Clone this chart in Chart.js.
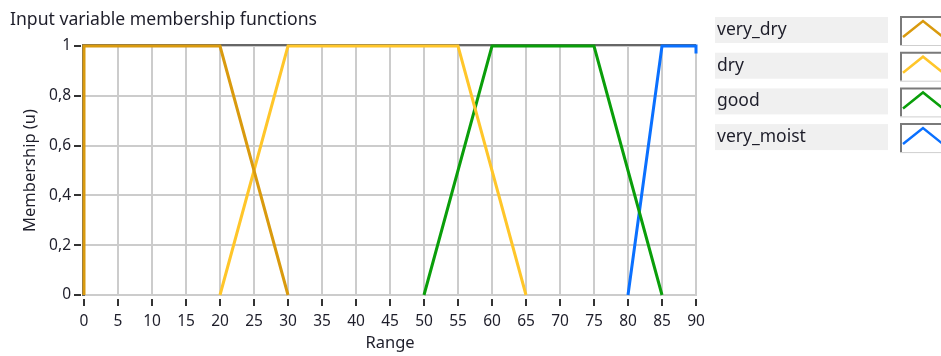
<!DOCTYPE html>
<html>
<head>
<meta charset="utf-8">
<script src="https://cdn.jsdelivr.net/npm/chart.js@4/dist/chart.umd.min.js"></script>
<style>
html,body{margin:0;padding:0;background:#fff;}
#wrap{width:941px;height:356px;position:relative;}
</style>
</head>
<body>
<div id="wrap"><canvas id="c" width="941" height="356"></canvas></div>
<script>
// ---- data ----
const chartTitle = 'Input variable membership functions';
const seriesNames = ['very_dry', 'dry', 'good', 'very_moist'];
const veryDryX = [0, 0, 20, 30];
const veryDryY = [0, 1, 1, 0];
const dryX = [20, 30, 55, 65];
const dryY = [0, 1, 1, 0];
const goodX = [50, 60, 75, 85];
const goodY = [0, 1, 1, 0];
const veryMoistX = [80, 85, 90, 90];
const veryMoistY = [0, 1, 1, 0.97];
const xTickValues = [0,5,10,15,20,25,30,35,40,45,50,55,60,65,70,75,80,85,90];
const yTickLabels = ['0', '0,2', '0,4', '0,6', '0,8', '1'];
const xAxisTitle = 'Range';
const yAxisTitle = 'Membership (u)';

const seriesColors = ['#D99A0E', '#FFC62A', '#0A9E0A', '#0A70FF'];
const FONT = "'Noto Sans', 'Open Sans', sans-serif";
const TXT = '#1e1e2a';

function pts(xs, ys) { return xs.map((x, i) => ({x: x, y: ys[i]})); }
const seriesX = [veryDryX, dryX, goodX, veryMoistX];
const seriesY = [veryDryY, dryY, goodY, veryMoistY];

const datasets = seriesNames.map((n, i) => ({
  label: n,
  data: pts(seriesX[i], seriesY[i]),
  borderColor: seriesColors[i],
  backgroundColor: seriesColors[i],
  borderWidth: 3,
  pointRadius: 0,
  tension: 0,
  clip: 4,
  fill: false
}));

const decor = {
  id: 'decor',
  beforeDatasetsDraw(chart) {
    const ctx = chart.ctx, a = chart.chartArea;
    const xs = chart.scales.x, ys = chart.scales.y;
    ctx.save();
    // frame (top + left dark)
    ctx.strokeStyle = '#666666';
    ctx.lineWidth = 2;
    ctx.beginPath();
    ctx.moveTo(a.left - 1, a.bottom + 1);
    ctx.lineTo(a.left - 1, a.top - 1);
    ctx.lineTo(a.right, a.top - 1);
    ctx.stroke();
    // tick marks
    ctx.strokeStyle = '#333';
    ctx.lineWidth = 2;
    xTickValues.forEach(v => {
      const px = Math.round(xs.getPixelForValue(v));
      ctx.beginPath();
      ctx.moveTo(px, a.bottom + 4);
      ctx.lineTo(px, a.bottom + 11);
      ctx.stroke();
    });
    yTickLabels.forEach((l, i) => {
      const py = Math.round(ys.getPixelForValue(i * 0.2));
      ctx.beginPath();
      ctx.moveTo(a.left - 10, py);
      ctx.lineTo(a.left - 3, py);
      ctx.stroke();
    });
    ctx.restore();
  },
  afterDraw(chart) {
    const ctx = chart.ctx;
    ctx.save();
    // title
    ctx.fillStyle = TXT;
    ctx.font = '17.6px ' + FONT;
    ctx.textBaseline = 'middle';
    ctx.textAlign = 'left';
    ctx.fillText(chartTitle, 10, 20);
    // legend
    seriesNames.forEach((n, i) => {
      const top = 17 + i * 35.7;
      ctx.fillStyle = '#f0f0f0';
      ctx.fillRect(715, top, 173, 26);
      ctx.fillStyle = TXT;
      ctx.font = '17.5px ' + FONT;
      ctx.fillText(n, 717, top + 13);
      // icon box
      const bx = 900, by = top - 1;
      ctx.fillStyle = '#ffffff';
      ctx.fillRect(bx, by, 60, 29);
      ctx.strokeStyle = '#7a7a7a';
      ctx.lineWidth = 2;
      ctx.beginPath();
      ctx.moveTo(bx + 1, by + 29);
      ctx.lineTo(bx + 1, by + 1);
      ctx.lineTo(bx + 60, by + 1);
      ctx.stroke();
      ctx.strokeStyle = '#cfcfcf';
      ctx.lineWidth = 1;
      ctx.beginPath();
      ctx.moveTo(bx, by + 29.5);
      ctx.lineTo(bx + 60, by + 29.5);
      ctx.stroke();
      ctx.strokeStyle = seriesColors[i];
      ctx.lineWidth = 2.5;
      ctx.beginPath();
      ctx.moveTo(bx + 3, by + 21);
      ctx.lineTo(bx + 23, by + 5);
      ctx.lineTo(bx + 43, by + 21);
      ctx.stroke();
    });
    ctx.restore();
  }
};

new Chart(document.getElementById('c'), {
  type: 'line',
  data: { datasets: datasets },
  options: {
    responsive: false,
    devicePixelRatio: 1,
    animation: false,
    layout: { padding: { left: 0, top: 46, right: 245, bottom: 0 } },
    plugins: { legend: { display: false }, tooltip: { enabled: false }, title: { display: false } },
    scales: {
      x: {
        type: 'linear', min: 0, max: 90,
        afterFit: s => { s.height = 61; },
        afterBuildTicks: s => { s.ticks = xTickValues.map(v => ({value: v})); },
        ticks: { color: TXT, font: { family: FONT, size: 15.5 }, padding: 17, maxRotation: 0, autoSkip: false },
        grid: { color: '#cccccc', lineWidth: 2, drawTicks: false },
        border: { color: '#cccccc', width: 2 },
        title: { display: true, text: xAxisTitle, color: TXT, font: { family: FONT, size: 16.5 }, padding: { top: 0, bottom: 3 } }
      },
      y: {
        type: 'linear', min: 0, max: 1,
        afterFit: s => { s.width = 84; },
        afterBuildTicks: s => { s.ticks = yTickLabels.map((l, i) => ({value: i * 0.2})); },
        ticks: { color: TXT, font: { family: FONT, size: 15.5 }, padding: 13, autoSkip: false,
                 callback: (v, i) => yTickLabels[i] },
        grid: { color: '#cccccc', lineWidth: 2, drawTicks: false },
        border: { color: '#666666', width: 2 },
        title: { display: true, text: yAxisTitle, color: TXT, font: { family: FONT, size: 16.5 }, padding: { top: 20, bottom: 0 } }
      }
    }
  },
  plugins: [decor]
});
</script>
</body>
</html>
